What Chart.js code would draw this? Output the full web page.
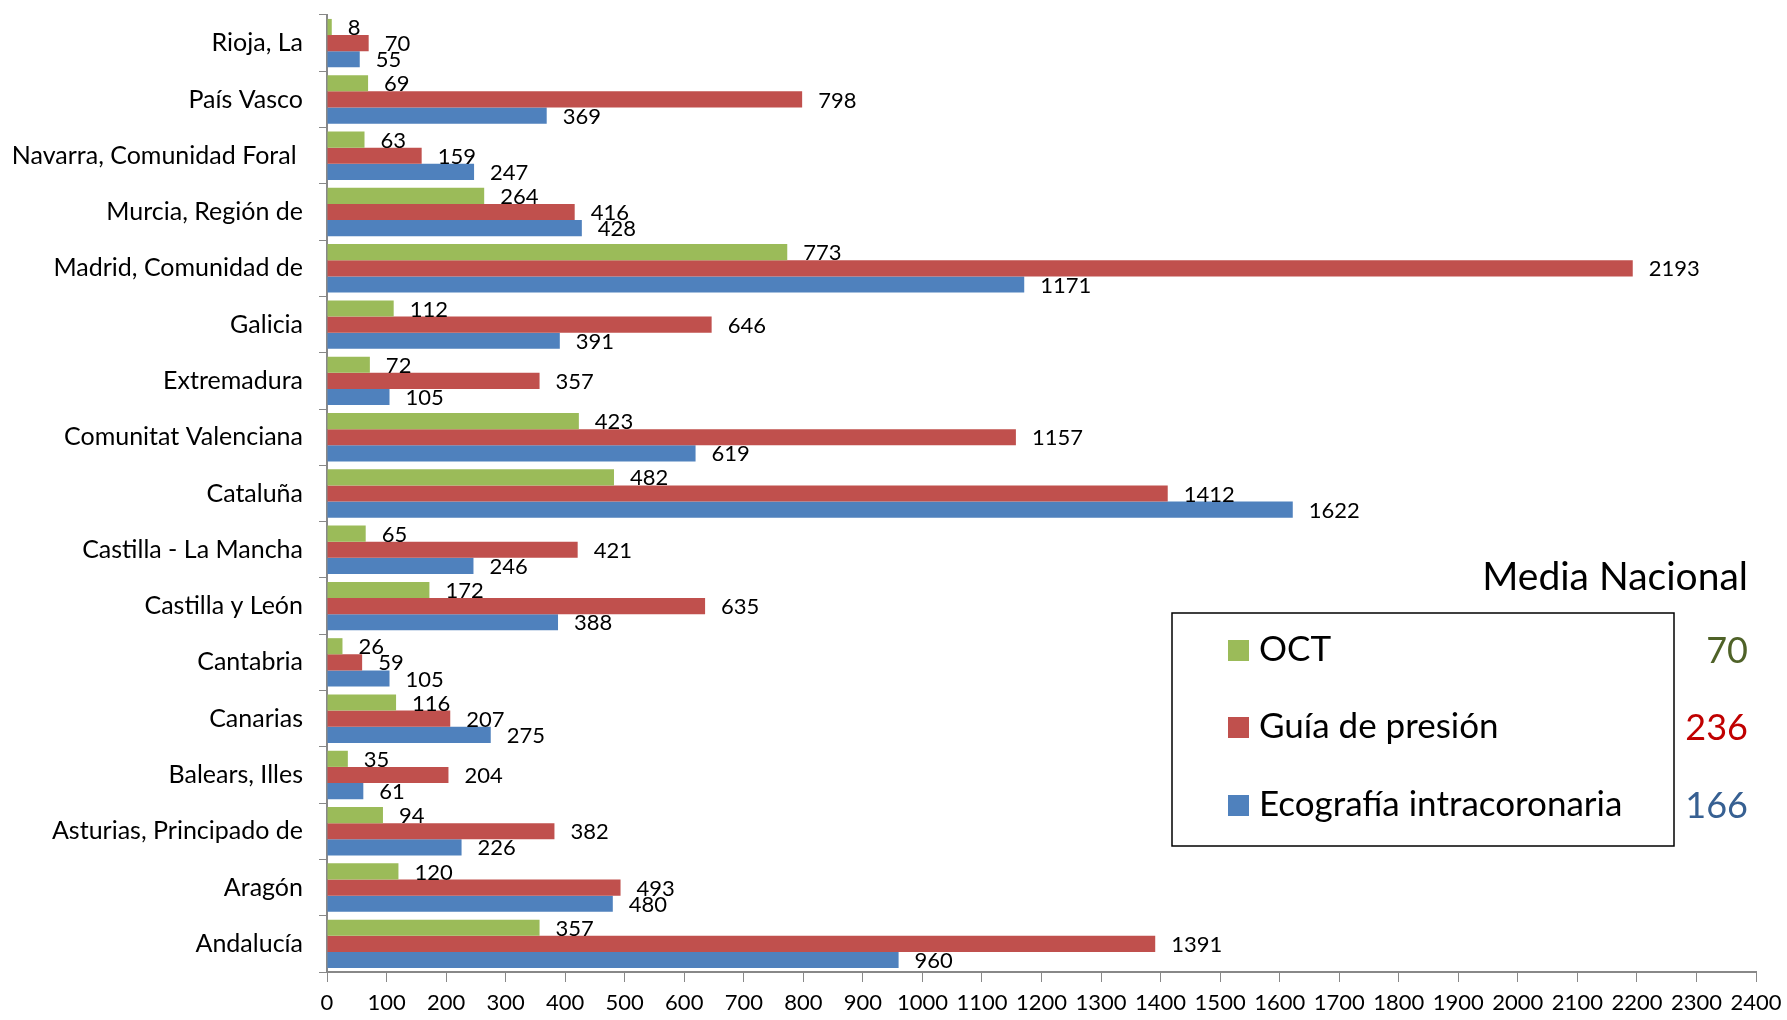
<!DOCTYPE html>
<html>
<head>
<meta charset="utf-8">
<script src="https://cdn.jsdelivr.net/npm/chart.js@4"></script>
<style>
  html, body { margin: 0; padding: 0; background: #fff; }
  #wrap { width: 1787px; height: 1020px; }
</style>
</head>
<body>
<div id="wrap"><canvas id="regionsChart" width="1787" height="1020"></canvas></div>
<script>
// top to bottom, as in the picture
var regions = ['Rioja, La', 'País Vasco', 'Navarra, Comunidad Foral ', 'Murcia, Región de',
    'Madrid, Comunidad de', 'Galicia', 'Extremadura', 'Comunitat Valenciana', 'Cataluña',
    'Castilla - La Mancha', 'Castilla y León', 'Cantabria', 'Canarias', 'Balears, Illes',
    'Asturias, Principado de', 'Aragón', 'Andalucía'];

var oct = [8, 69, 63, 264, 773, 112, 72, 423, 482, 65, 172, 26, 116, 35, 94, 120, 357];
var guia = [70, 798, 159, 416, 2193, 646, 357, 1157, 1412, 421, 635, 59, 207, 204, 382, 493, 1391];
var eco = [55, 369, 247, 428, 1171, 391, 105, 619, 1622, 246, 388, 105, 275, 61, 226, 480, 960];

var seriesNames = ['OCT', 'Guía de presión', 'Ecografía intracoronaria'];
var mediaNacional = [70, 236, 166];
var mediaColors = ['#4f6228', '#c00000', '#376092'];

var FONT = 'Lato, "Open Sans", sans-serif';

// value labels just right of each bar end
var valueLabels = {
    id: 'valueLabels',
    afterDatasetsDraw: function(chart) {
        var ctx = chart.ctx;
        ctx.save();
        ctx.font = '22px ' + FONT;
        ctx.fillStyle = '#000';
        ctx.textAlign = 'left';
        ctx.textBaseline = 'middle';
        chart.data.datasets.forEach(function(ds, i) {
            chart.getDatasetMeta(i).data.forEach(function(bar, j) {
                ctx.fillText(ds.data[j], bar.x + 16, bar.y + 1);
            });
        });
        ctx.restore();
    }
};

// boxed legend plus the "Media Nacional" column
var mediaLegend = {
    id: 'mediaLegend',
    afterDraw: function(chart) {
        var ctx = chart.ctx;
        ctx.save();
        ctx.strokeStyle = '#000';
        ctx.lineWidth = 1.5;
        ctx.strokeRect(1172, 613, 502, 233);

        ctx.textBaseline = 'middle';
        ctx.font = '39px ' + FONT;
        ctx.fillStyle = '#000';
        ctx.textAlign = 'right';
        ctx.fillText('Media Nacional', 1748, 577);

        var rows = [650, 727, 805];
        chart.data.datasets.forEach(function(ds, i) {
            ctx.fillStyle = ds.backgroundColor;
            ctx.fillRect(1228, rows[i] - 10, 21, 21);
            ctx.fillStyle = '#000';
            ctx.textAlign = 'left';
            ctx.font = '35px ' + FONT;
            ctx.fillText(ds.label, 1259, rows[i]);
            ctx.fillStyle = mediaColors[i];
            ctx.textAlign = 'right';
            ctx.font = '36px ' + FONT;
            ctx.fillText(mediaNacional[i], 1748, rows[i] + 1);
        });
        ctx.restore();
    }
};

var ctx = document.getElementById('regionsChart').getContext('2d');
var regionsChart = new Chart(ctx, {
    type: 'bar',
    data: {
        labels: regions,
        datasets: [
            { label: seriesNames[0], data: oct, backgroundColor: '#9bbb59' },
            { label: seriesNames[1], data: guia, backgroundColor: '#c0504d' },
            { label: seriesNames[2], data: eco, backgroundColor: '#4f81bd' }
        ]
    },
    options: {
        indexAxis: 'y',
        responsive: false,
        animation: false,
        categoryPercentage: 0.86,
        barPercentage: 1,
        layout: { autoPadding: false, padding: { top: 15, right: 31, left: 0, bottom: 0 } },
        plugins: {
            legend: { display: false },
            tooltip: { enabled: false }
        },
        scales: {
            x: {
                min: 0,
                max: 2400,
                ticks: {
                    stepSize: 100,
                    color: '#000',
                    font: { family: FONT, size: 22 },
                    padding: 8,
                    maxRotation: 0,
                    autoSkip: false,
                    callback: function(value) { return String(value); }
                },
                grid: { drawOnChartArea: false, tickLength: 10, color: '#888' },
                border: { color: '#888', width: 2 },
                afterFit: function(scale) {
                    scale.height = 48;
                    scale.paddingLeft = 0;
                    scale.paddingRight = 0;
                }
            },
            y: {
                ticks: {
                    color: '#000',
                    font: { family: FONT, size: 25 },
                    padding: 16,
                    autoSkip: false
                },
                grid: { drawOnChartArea: false, tickLength: 8, offset: true, color: '#888' },
                border: { color: '#888', width: 2 },
                afterFit: function(scale) {
                    scale.width = 327;
                    scale.paddingTop = 0;
                    scale.paddingBottom = 0;
                }
            }
        }
    },
    plugins: [valueLabels, mediaLegend]
});
</script>
</body>
</html>
